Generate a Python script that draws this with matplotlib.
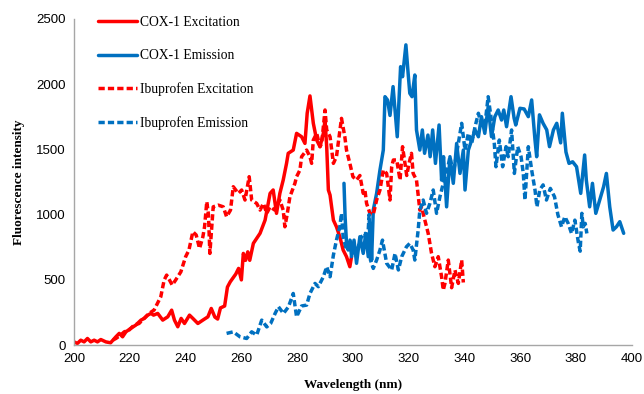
import matplotlib
matplotlib.use("Agg")
import matplotlib.pyplot as plt

# (wavelength nm, intensity)
cox_ex = [(200, 25), (201.2, 13), (202.4, 38), (203.6, 25), (204.8, 51), (206, 25), (207.2, 38),
          (208.4, 25), (209.6, 43), (211.4, 25), (213.1, 18), (215, 64), (216.2, 90), (217.4, 64),
          (218.6, 102), (220.3, 128), (222.1, 153), (224, 192), (225.2, 205), (226.4, 230),
          (227.6, 243), (228.5, 230), (230, 243), (231.8, 192), (233.6, 217), (235, 268), (236, 192),
          (237.2, 141), (238.4, 205), (239.6, 166), (241.4, 230), (242.6, 205), (244.4, 166),
          (246.2, 192), (248, 217), (249.2, 281), (250.5, 215), (251.5, 200), (252.5, 285), (254, 300),
          (255, 445), (256, 485), (258, 545), (259, 588), (260, 500), (260.7, 703), (261.5, 650),
          (262.3, 715), (263, 650), (264.3, 780), (266.7, 857), (268.5, 958), (270.3, 1163),
          (271.4, 1189), (272.6, 1010), (273.8, 1163), (275, 1265), (276.2, 1393), (276.8, 1470),
          (278.6, 1495), (279.8, 1623), (281.6, 1597), (282.8, 1546), (283.6, 1777), (284.6, 1910),
          (285.8, 1700), (287, 1572), (288.2, 1521), (289.4, 1623), (290, 1725), (290.6, 1521),
          (291.2, 1189), (291.8, 1150), (293, 958), (294.1, 907), (295.3, 831), (296.5, 729),
          (297.7, 678), (298.9, 601), (299.5, 678)]

cox_em = [(296.8, 1240), (297.2, 984), (297.7, 780), (298.3, 729), (299, 800), (299.5, 678),
          (300.4, 805), (301.3, 627), (302.5, 831), (303.7, 703), (304.6, 856), (305.5, 678),
          (306.3, 933), (306.7, 652), (307.3, 1035), (308.5, 1163), (309.7, 1342), (310.9, 1495),
          (311.5, 1904), (312.4, 1879), (313.3, 1760), (314.4, 1981), (315.9, 1597), (317.1, 2134),
          (317.8, 2057), (319, 2301), (319.8, 2083), (320.4, 1930), (321.2, 1904), (322.2, 2070),
          (322.8, 1649), (324, 1495), (324.9, 1649), (325.7, 1470), (326.9, 1610), (327.7, 1444),
          (328.6, 1649), (329.6, 1393), (330.9, 1687), (331.8, 1265), (332.5, 1444), (333.6, 1060),
          (334.8, 1444), (336, 1240), (337.2, 1546), (338.4, 1316), (339.6, 1495), (340.2, 1189),
          (341.4, 1495), (342.6, 1572), (343.8, 1649), (345, 1597), (346.1, 1751), (347.3, 1623),
          (348.5, 1827), (349.7, 1597), (350.9, 1751), (352.1, 1802), (353.3, 1725), (354.1, 1802),
          (355.1, 1674), (356.7, 1904), (357.8, 1740), (358.4, 1687), (359.9, 1815), (361.4, 1810),
          (362.9, 1751), (364.1, 1879), (365.3, 1572), (365.9, 1444), (366.9, 1765), (368.2, 1700),
          (369.5, 1650), (370.5, 1521), (371.9, 1649), (373.1, 1700), (374.5, 1550), (375.1, 1777),
          (376.4, 1480), (377.5, 1393), (378.8, 1405), (380.2, 1367), (381.7, 1163), (383.1, 1457),
          (383.7, 1265), (384.9, 1060), (385.9, 1240), (387.1, 1010), (388.5, 1112), (389.9, 1214),
          (390.9, 1316), (392.1, 1060), (393.3, 882), (394.5, 907), (395.7, 946), (397.1, 857)]

ibu_ex = [(214, 40), (215, 51), (216.7, 77), (218, 102), (219.7, 115), (221.5, 153), (223.3, 166),
          (225.1, 205), (226.9, 243), (228.7, 269), (229.9, 320), (231.1, 371), (232.3, 498),
          (233.2, 537), (234.2, 500), (235.2, 460), (236.4, 498), (238.3, 562), (240, 677),
          (241.2, 729), (242.6, 869), (243.8, 844), (245, 741), (246.2, 831), (246.8, 907),
          (247.6, 1100), (248.2, 1000), (248.7, 703), (249.9, 1060), (251.7, 1073), (253.5, 1060),
          (254.7, 984), (256.1, 1035), (257.1, 1214), (258.9, 1163), (260.1, 1189), (261.3, 1112),
          (262.8, 1291), (263.7, 1112), (265.5, 1086), (266.7, 1035), (267.9, 1086), (269.1, 1010),
          (270.3, 1060), (272, 1035), (273.8, 1112), (275, 1035), (275.6, 907), (276.4, 1000),
          (277.4, 1137), (279.2, 1240), (279.8, 1291), (281, 1342), (281.6, 1444), (283.4, 1495),
          (284.6, 1444), (285.2, 1393), (285.8, 1572), (287, 1623), (288.2, 1521), (288.8, 1546),
          (290, 1802), (290.6, 1649), (291.8, 1597), (293, 1393), (294.1, 1444), (295.9, 1738),
          (297.1, 1597), (297.7, 1495), (298.9, 1393), (300, 1291), (301.3, 1265), (302.5, 1300),
          (303.7, 1163), (304.3, 1189), (304.9, 1086), (306.1, 1010), (307.3, 1000), (308.5, 1112),
          (309.7, 1189), (310.9, 1342), (312.1, 1316), (313.3, 1112), (313.9, 1367), (314.5, 1419),
          (315.7, 1419), (316.9, 1265), (317.8, 1521), (319.3, 1300), (320.2, 1400), (321, 1470),
          (321.6, 1316), (322.8, 1265), (324, 1035), (324.6, 1060), (325.8, 958), (327, 856),
          (328.2, 703), (329.4, 601), (330.6, 678), (331.8, 524), (332.4, 422), (333, 473),
          (334.2, 652), (335.4, 440), (336.6, 575), (337.8, 473), (339, 652), (339.6, 480)]

ibu_em = [(254.7, 90), (257.1, 102), (259.5, 64), (261.9, 51), (263.7, 102), (265.5, 77),
          (267.3, 192), (269.1, 140), (270.5, 166), (272.1, 243), (273.3, 294), (275.1, 243),
          (276.9, 294), (278.6, 396), (279.8, 217), (281.6, 300), (283.4, 307), (284.6, 396),
          (286.4, 473), (287.6, 448), (289.4, 524), (290.6, 601), (291.8, 524), (293, 690),
          (294.1, 805), (295.3, 907), (295.9, 1010), (296.5, 831), (297.7, 729), (298.9, 805),
          (299.5, 729), (300.7, 703), (301.9, 754), (303.1, 831), (304.3, 856), (305.1, 729),
          (305.8, 1000), (306.3, 652), (307.3, 588), (308.5, 652), (309.7, 729), (310.6, 805),
          (312.1, 627), (313.9, 576), (315.1, 703), (316.3, 576), (317.5, 678), (319.2, 754),
          (320.4, 780), (321.6, 729), (322.2, 652), (323.4, 882), (324, 1035), (325.2, 1112),
          (326.4, 1010), (327.6, 1086), (328.8, 1189), (330, 1010), (331.2, 1137), (332.4, 1240),
          (333.6, 1316), (334.8, 1444), (336, 1316), (337.8, 1546), (339, 1700), (340.2, 1495),
          (341.4, 1623), (342.6, 1546), (343.8, 1674), (345, 1777), (346.2, 1674), (347.4, 1700),
          (348.5, 1904), (349.5, 1750), (350.7, 1546), (351.3, 1367), (352.5, 1572), (353.7, 1367),
          (354.9, 1521), (355.7, 1444), (356.9, 1649), (357.9, 1316), (359.1, 1521), (360.3, 1444),
          (361.1, 1316), (361.7, 1112), (362.9, 1521), (364.1, 1342), (365.3, 1189), (366, 1060),
          (367, 1189), (368.2, 1228), (369.4, 1112), (370.8, 1201), (372.3, 1137), (373.5, 1000),
          (374.8, 907), (376, 984), (377.2, 933), (378.4, 856), (379.6, 958), (380.9, 780),
          (381.5, 720), (382.1, 1010), (382.6, 907), (383.3, 933), (383.9, 856)]

labels = ["COX-1 Excitation", "COX-1 Emission", "Ibuprofen Excitation", "Ibuprofen Emission"]
xticks = [200, 220, 240, 260, 280, 300, 320, 340, 360, 380, 400]
yticks = [0, 500, 1000, 1500, 2000, 2500]

RED = "#FF0000"
BLUE = "#0070C0"
dash = (0, (1.8, 0.9))

fig = plt.figure(figsize=(6.44, 3.94), dpi=100)
ax = fig.add_axes([0.115, 0.124, 0.866, 0.828])

def xy(pts):
    return [p[0] for p in pts], [p[1] for p in pts]

lw = 2.5
kw = dict(lw=lw, solid_joinstyle="round", solid_capstyle="round")
ax.plot(*xy(cox_ex), color=RED, label=labels[0], **kw)
ax.plot(*xy(cox_em), color=BLUE, label=labels[1], **kw)
ax.plot(*xy(ibu_ex), color=RED, ls=dash, label=labels[2], **kw)
ax.plot(*xy(ibu_em), color=BLUE, ls=dash, label=labels[3], **kw)

ax.set_xlim(200, 400)
ax.set_ylim(0, 2500)
ax.set_xticks(xticks)
ax.set_yticks(yticks)
ax.tick_params(length=0, labelsize=9.5, pad=6)
for t in ax.get_xticklabels() + ax.get_yticklabels():
    t.set_fontfamily("Liberation Sans")

for s in ["top", "right"]:
    ax.spines[s].set_visible(False)
for s in ["left", "bottom"]:
    ax.spines[s].set_color("#A6A6A6")
    ax.spines[s].set_linewidth(1.0)

ax.set_xlabel("Wavelength (nm)", fontfamily="Liberation Serif", fontweight="bold",
              fontsize=9.5, labelpad=10)
ax.set_ylabel("Fluorescence intensity", fontfamily="Liberation Serif", fontweight="bold",
              fontsize=9.5, labelpad=8)

leg = ax.legend(loc="upper left", bbox_to_anchor=(0.152, 0.959), bbox_transform=fig.transFigure,
                frameon=False, prop={"family": "Liberation Serif", "size": 9.8},
                handlelength=2.9, handletextpad=0.2, labelspacing=1.48, borderpad=0,
                borderaxespad=0)

fig.savefig("out.png", dpi=100)
